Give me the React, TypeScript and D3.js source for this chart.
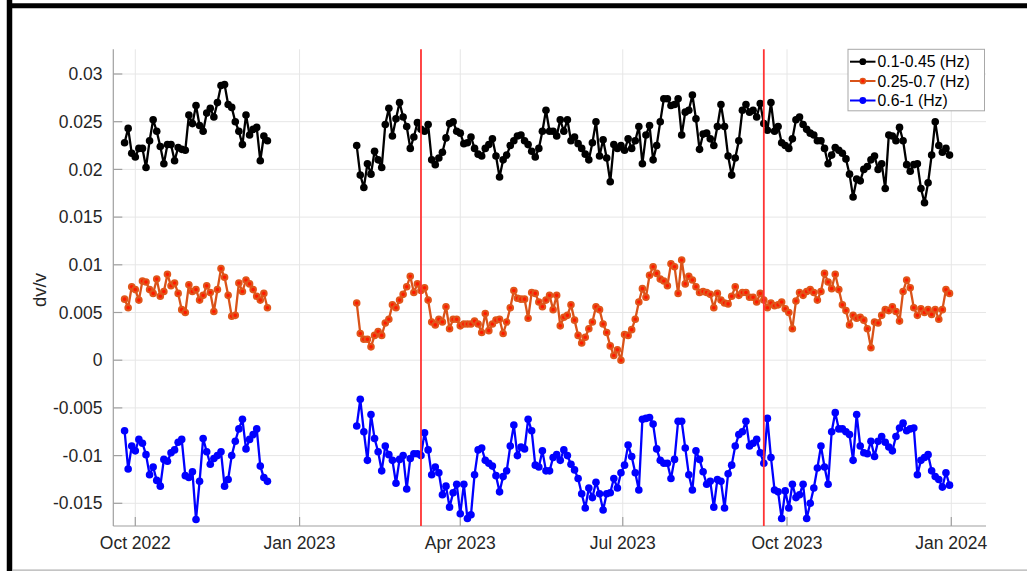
import React from "react";
import * as d3 from "d3";

// ---------- data ----------
const seriesNames = ["0.1-0.45 (Hz)", "0.25-0.7 (Hz)", "0.6-1 (Hz)"];
const segmentStarts = ["2022-09-25", "2023-02-02"];
const sampleStepDays = 2;
const eventDates = ["2023-03-10", "2023-09-18"];
const xTickDates = ["2022-10-01", "2023-01-01", "2023-04-01", "2023-07-01", "2023-10-01", "2024-01-01"];
const yTickValues = [-0.015, -0.01, -0.005, 0, 0.005, 0.01, 0.015, 0.02, 0.025, 0.03];

const blackSeg1 = [
  0.0228, 0.0243, 0.0217, 0.0213, 0.0222, 0.0222, 0.0202, 0.0230, 0.0252, 0.0240,
  0.0224, 0.0206, 0.0226, 0.0226, 0.0209, 0.0223, 0.0221, 0.0220, 0.0257, 0.0248,
  0.0267, 0.0246, 0.0240, 0.0259, 0.0264, 0.0255, 0.0270, 0.0288, 0.0289, 0.0268,
  0.0265, 0.0250, 0.0240, 0.0226, 0.0257, 0.0236, 0.0242, 0.0244, 0.0209, 0.0235,
  0.0230,
];
const orangeSeg1 = [
  0.0064, 0.0055, 0.0077, 0.0074, 0.0063, 0.0083, 0.0082, 0.0074, 0.0070, 0.0085,
  0.0067, 0.0072, 0.0090, 0.0078, 0.0081, 0.0070, 0.0053, 0.0050, 0.0079, 0.0072,
  0.0074, 0.0063, 0.0068, 0.0078, 0.0071, 0.0051, 0.0074, 0.0096, 0.0087, 0.0068,
  0.0046, 0.0047, 0.0081, 0.0072, 0.0084, 0.0080, 0.0074, 0.0067, 0.0063, 0.0070,
  0.0055,
];
const blueSeg1 = [
  -0.0074, -0.0114, -0.0090, -0.0095, -0.0083, -0.0087, -0.0099, -0.0120, -0.0112, -0.0126,
  -0.0132, -0.0104, -0.0106, -0.0097, -0.0094, -0.0086, -0.0083, -0.0121, -0.0123, -0.0117,
  -0.0167, -0.0127, -0.0082, -0.0096, -0.0109, -0.0103, -0.0100, -0.0096, -0.0132, -0.0125,
  -0.0100, -0.0085, -0.0072, -0.0062, -0.0093, -0.0083, -0.0078, -0.0072, -0.0111, -0.0123,
  -0.0127,
];
const blackSeg2 = [
  0.0225, 0.0194, 0.0181, 0.0206, 0.0195, 0.0219, 0.0210, 0.0202, 0.0247, 0.0264,
  0.0235, 0.0253, 0.0270, 0.0255, 0.0245, 0.0222, 0.0234, 0.0249, 0.0242, 0.0240,
  0.0247, 0.0210, 0.0205, 0.0212, 0.0218, 0.0233, 0.0248, 0.0250, 0.0240, 0.0238,
  0.0227, 0.0228, 0.0234, 0.0222, 0.0216, 0.0214, 0.0222, 0.0226, 0.0232, 0.0214,
  0.0192, 0.0210, 0.0215, 0.0225, 0.0230, 0.0235, 0.0236, 0.0230, 0.0226, 0.0219,
  0.0213, 0.0222, 0.0240, 0.0262, 0.0240, 0.0240, 0.0235, 0.0252, 0.0240, 0.0252,
  0.0230, 0.0234, 0.0227, 0.0222, 0.0216, 0.0210, 0.0228, 0.0250, 0.0214, 0.0231,
  0.0212, 0.0187, 0.0226, 0.0222, 0.0225, 0.0220, 0.0232, 0.0222, 0.0230, 0.0245,
  0.0206, 0.0236, 0.0246, 0.0210, 0.0225, 0.0250, 0.0274, 0.0274, 0.0267, 0.0268,
  0.0274, 0.0236, 0.0260, 0.0262, 0.0278, 0.0253, 0.0221, 0.0237, 0.0238, 0.0232,
  0.0225, 0.0245, 0.0268, 0.0245, 0.0214, 0.0194, 0.0212, 0.0230, 0.0262, 0.0268,
  0.0260, 0.0262, 0.0255, 0.0269, 0.0248, 0.0241, 0.0270, 0.0240, 0.0245, 0.0228,
  0.0225, 0.0222, 0.0232, 0.0252, 0.0255, 0.0247, 0.0242, 0.0238, 0.0236, 0.0230,
  0.0230, 0.0222, 0.0206, 0.0215, 0.0223, 0.0220, 0.0217, 0.0211, 0.0195, 0.0171,
  0.0190, 0.0188, 0.0200, 0.0203, 0.0210, 0.0214, 0.0200, 0.0206, 0.0180, 0.0236,
  0.0235, 0.0230, 0.0244, 0.0230, 0.0205, 0.0198, 0.0205, 0.0206, 0.0180, 0.0165,
  0.0186, 0.0215, 0.0250, 0.0225, 0.0218, 0.0222, 0.0215,
];
const orangeSeg2 = [
  0.0060, 0.0028, 0.0022, 0.0022, 0.0014, 0.0026, 0.0030, 0.0026, 0.0039, 0.0043,
  0.0058, 0.0055, 0.0063, 0.0069, 0.0077, 0.0088, 0.0071, 0.0080, 0.0073, 0.0076,
  0.0063, 0.0040, 0.0037, 0.0043, 0.0040, 0.0056, 0.0033, 0.0043, 0.0043, 0.0036,
  0.0038, 0.0038, 0.0038, 0.0041, 0.0038, 0.0029, 0.0049, 0.0031, 0.0038, 0.0042,
  0.0043, 0.0028, 0.0040, 0.0055, 0.0073, 0.0065, 0.0064, 0.0064, 0.0044, 0.0071,
  0.0070, 0.0061, 0.0056, 0.0063, 0.0068, 0.0053, 0.0068, 0.0036, 0.0045, 0.0047,
  0.0058, 0.0042, 0.0026, 0.0018, 0.0024, 0.0033, 0.0040, 0.0056, 0.0053, 0.0038,
  0.0029, 0.0015, 0.0005, 0.0011, 0.0000, 0.0027, 0.0026, 0.0032, 0.0043, 0.0061,
  0.0075, 0.0066, 0.0089, 0.0098, 0.0091, 0.0085, 0.0083, 0.0078, 0.0101, 0.0098,
  0.0070, 0.0105, 0.0080, 0.0088, 0.0084, 0.0077, 0.0071, 0.0072, 0.0071, 0.0069,
  0.0055, 0.0070, 0.0063, 0.0060, 0.0059, 0.0067, 0.0077, 0.0068, 0.0071, 0.0071,
  0.0066, 0.0066, 0.0061, 0.0070, 0.0063, 0.0055, 0.0060, 0.0057, 0.0058, 0.0061,
  0.0054, 0.0050, 0.0033, 0.0062, 0.0071, 0.0068, 0.0072, 0.0074, 0.0071, 0.0063,
  0.0072, 0.0091, 0.0082, 0.0075, 0.0090, 0.0074, 0.0058, 0.0052, 0.0037, 0.0047,
  0.0044, 0.0045, 0.0042, 0.0033, 0.0013, 0.0040, 0.0039, 0.0047, 0.0053, 0.0052,
  0.0056, 0.0051, 0.0041, 0.0072, 0.0084, 0.0076, 0.0055, 0.0047, 0.0054, 0.0050,
  0.0053, 0.0048, 0.0053, 0.0043, 0.0053, 0.0074, 0.0070,
];
const blueSeg2 = [
  -0.0069, -0.0041, -0.0075, -0.0105, -0.0057, -0.0082, -0.0096, -0.0116, -0.0090, -0.0099,
  -0.0105, -0.0129, -0.0104, -0.0100, -0.0135, -0.0103, -0.0098, -0.0098, -0.0100, -0.0076,
  -0.0094, -0.0120, -0.0112, -0.0118, -0.0141, -0.0132, -0.0154, -0.0139, -0.0130, -0.0161,
  -0.0130, -0.0166, -0.0162, -0.0120, -0.0094, -0.0092, -0.0105, -0.0108, -0.0111, -0.0121,
  -0.0138, -0.0122, -0.0116, -0.0090, -0.0068, -0.0100, -0.0091, -0.0093, -0.0062, -0.0074,
  -0.0110, -0.0112, -0.0095, -0.0116, -0.0116, -0.0102, -0.0099, -0.0105, -0.0094, -0.0100,
  -0.0109, -0.0115, -0.0124, -0.0140, -0.0155, -0.0134, -0.0144, -0.0128, -0.0140, -0.0157,
  -0.0140, -0.0139, -0.0124, -0.0134, -0.0118, -0.0110, -0.0089, -0.0101, -0.0118, -0.0136,
  -0.0062, -0.0061, -0.0060, -0.0067, -0.0093, -0.0105, -0.0108, -0.0108, -0.0124, -0.0104,
  -0.0064, -0.0064, -0.0092, -0.0120, -0.0136, -0.0095, -0.0104, -0.0117, -0.0130, -0.0127,
  -0.0154, -0.0125, -0.0127, -0.0155, -0.0119, -0.0110, -0.0090, -0.0078, -0.0075, -0.0064,
  -0.0090, -0.0087, -0.0083, -0.0097, -0.0108, -0.0061, -0.0102, -0.0136, -0.0138, -0.0166,
  -0.0137, -0.0155, -0.0130, -0.0144, -0.0141, -0.0130, -0.0166, -0.0150, -0.0134, -0.0113,
  -0.0090, -0.0112, -0.0130, -0.0075, -0.0055, -0.0072, -0.0072, -0.0075, -0.0078, -0.0105,
  -0.0057, -0.0090, -0.0097, -0.0098, -0.0085, -0.0101, -0.0085, -0.0080, -0.0086, -0.0091,
  -0.0095, -0.0080, -0.0071, -0.0066, -0.0074, -0.0072, -0.0071, -0.0120, -0.0105, -0.0102,
  -0.0099, -0.0116, -0.0122, -0.0125, -0.0133, -0.0118, -0.0131,
];

// ---------- styling / layout ----------
const FONT = "'Liberation Sans', Arial, Helvetica, sans-serif";
const W = 1027;
const H = 571;
const M = { left: 113.3, right: 986, top: 49.3, bottom: 526 };

const parse = (s: string) => new Date(s + "T00:00:00Z");

type Pt = [Date, number];

const seriesStyle = [
  { line: "#000000", face: "#000000", edge: "#000000" },
  { line: "#D95319", face: "#FF1A00", edge: "#E0561A" },
  { line: "#0000FF", face: "#0000FF", edge: "#0000FF" },
];

function fmtY(v: number) {
  if (Math.abs(v) < 1e-12) return "0";
  return String(+v.toFixed(3)).replace("\u2212", "-");
}

export default function App() {
  const x = d3
    .scaleUtc()
    .domain([parse("2022-10-01"), parse("2024-01-01")])
    .range([135.3, 951.3]);
  const y = d3.scaleLinear().domain([-0.015, 0.03]).range([503.3, 74]);

  const toPts = (vals: number[], start: string): Pt[] =>
    vals.map((v, i) => [d3.utcDay.offset(parse(start), i * sampleStepDays), v]);

  const seriesData: Pt[][][] = [
    [toPts(blackSeg1, segmentStarts[0]), toPts(blackSeg2, segmentStarts[1])],
    [toPts(orangeSeg1, segmentStarts[0]), toPts(orangeSeg2, segmentStarts[1])],
    [toPts(blueSeg1, segmentStarts[0]), toPts(blueSeg2, segmentStarts[1])],
  ];

  const line = d3
    .line<Pt>()
    .x((d) => x(d[0]))
    .y((d) => y(d[1]));

  const xTicks = xTickDates.map(parse);
  const fmtX = d3.utcFormat("%b %Y");

  const axisColor = "#a0a0a0";
  const gridColor = "#e6e6e6";
  const textColor = "#262626";

  // legend
  const lg = { x: 848, y: 49.3, w: 136.5, h: 61.5 };
  const lgRows = [61.7, 81, 100.5];

  const R = 3.8;

  return (
    <svg
      width={W}
      height={H}
      style={{ position: "absolute", left: 0, top: 0, background: "#fff" }}
      fontFamily={FONT}
    >
      <rect x={0} y={0} width={W} height={H} fill="#fff" />
      {/* outer window frame */}
      <line x1={9.5} y1={0} x2={9.5} y2={H} stroke="#000" strokeWidth={5.5} />
      <line x1={7} y1={5.8} x2={W} y2={5.8} stroke="#000" strokeWidth={5} />
      <line x1={12} y1={570.2} x2={W} y2={570.2} stroke="#b0b0b0" strokeWidth={1.2} />

      {/* grid */}
      {xTicks.map((t, i) => (
        <line key={"gx" + i} x1={x(t)} x2={x(t)} y1={M.top} y2={M.bottom} stroke={gridColor} strokeWidth={1} />
      ))}
      {yTickValues.map((v, i) => (
        <line key={"gy" + i} x1={M.left} x2={M.right} y1={y(v)} y2={y(v)} stroke={gridColor} strokeWidth={1} />
      ))}

      {/* axes */}
      <line x1={M.left} x2={M.left} y1={M.top} y2={M.bottom} stroke={axisColor} strokeWidth={1.2} />
      <line x1={M.left} x2={M.right} y1={M.bottom} y2={M.bottom} stroke={axisColor} strokeWidth={1.2} />
      {yTickValues.map((v, i) => (
        <g key={"ty" + i}>
          <line x1={M.left} x2={M.left + 9} y1={y(v)} y2={y(v)} stroke={axisColor} strokeWidth={1.2} />
          <text
            x={102.5}
            y={y(v)}
            dy="0.35em"
            textAnchor="end"
            fontSize={17.5}
            fill={textColor}
          >
            {fmtY(v)}
          </text>
        </g>
      ))}
      {xTicks.map((t, i) => (
        <g key={"tx" + i}>
          <line x1={x(t)} x2={x(t)} y1={M.bottom} y2={M.bottom - 9} stroke={axisColor} strokeWidth={1.2} />
          <text x={x(t)} y={549.3} textAnchor="middle" fontSize={17.5} fill={textColor}>
            {fmtX(t)}
          </text>
        </g>
      ))}
      <text
        transform={`translate(45.5, 290) rotate(-90)`}
        textAnchor="middle"
        fontSize={18.5}
        fill={textColor}
      >
        dv/v
      </text>

      {/* series */}
      {seriesData.map((segs, si) => (
        <g key={"s" + si}>
          {segs.map((pts, k) => (
            <path
              key={"p" + k}
              d={line(pts) || ""}
              fill="none"
              stroke={seriesStyle[si].line}
              strokeWidth={2.3}
              strokeLinejoin="round"
            />
          ))}
          {segs.map((pts, k) =>
            pts.map((d, j) =>
              si === 1 ? (
                <circle
                  key={"m" + k + "-" + j}
                  cx={x(d[0])}
                  cy={y(d[1])}
                  r={2.8}
                  fill={seriesStyle[si].face}
                  stroke={seriesStyle[si].edge}
                  strokeWidth={2}
                />
              ) : (
                <circle
                  key={"m" + k + "-" + j}
                  cx={x(d[0])}
                  cy={y(d[1])}
                  r={R}
                  fill={seriesStyle[si].face}
                />
              )
            )
          )}
        </g>
      ))}

      {/* event lines */}
      {eventDates.map((d, i) => (
        <line
          key={"ev" + i}
          x1={x(parse(d))}
          x2={x(parse(d))}
          y1={M.top}
          y2={M.bottom}
          stroke="#FF3333"
          strokeWidth={1.8}
        />
      ))}

      {/* legend */}
      <rect x={lg.x} y={lg.y} width={lg.w} height={lg.h} fill="#fff" stroke="#a8a8a8" strokeWidth={1} />
      {seriesNames.map((name, i) => (
        <g key={"lg" + i}>
          <line x1={850} x2={875.5} y1={lgRows[i]} y2={lgRows[i]} stroke={seriesStyle[i].line} strokeWidth={2} />
          {i === 1 ? (
            <circle cx={862.8} cy={lgRows[i]} r={2.5} fill={seriesStyle[i].face} stroke={seriesStyle[i].edge} strokeWidth={1.7} />
          ) : (
            <circle cx={862.8} cy={lgRows[i]} r={3.4} fill={seriesStyle[i].face} />
          )}
          <text x={877.5} y={lgRows[i]} dy="0.36em" fontSize={15.8} fill="#000">
            {name}
          </text>
        </g>
      ))}
    </svg>
  );
}
